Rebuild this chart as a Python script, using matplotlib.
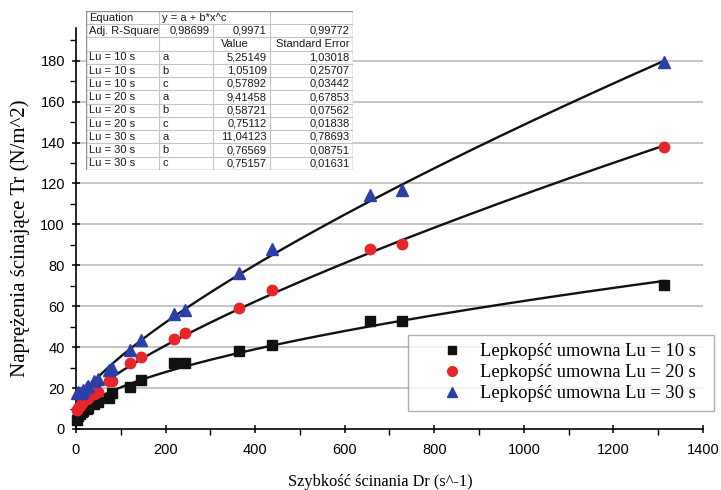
import numpy as np
import matplotlib
matplotlib.use("Agg")
import matplotlib.pyplot as plt
from matplotlib.lines import Line2D
from matplotlib.patches import Rectangle

# ---------------- data ----------------
shear_rate = [3.0, 5.4, 9.0, 13.5, 16.2, 24.3, 27.0, 40.5, 48.6, 72.9, 81.0,
              121.5, 145.8, 218.7, 243.0, 364.5, 437.4, 656.1, 729.0, 1312.0]
tau_lu10 = [4.5, 6.5, 7.5, 8.5, 9.0, 10.0, 10.5, 12.0, 13.3, 15.0, 17.7,
            20.6, 23.9, 32.3, 32.3, 38.0, 41.0, 52.8, 52.8, 70.6]
tau_lu20 = [9.5, 10.5, 11.2, 12.5, 13.7, 14.5, 15.3, 16.9, 17.9, 23.6, 23.6,
            32.5, 35.3, 44.0, 47.0, 59.0, 67.8, 88.1, 90.2, 137.7]
tau_lu30 = [17.5, 18.0, 17.5, 18.2, 19.0, 20.5, 21.0, 23.5, 24.2, 29.0, 29.6,
            38.5, 43.7, 56.4, 58.4, 76.4, 88.1, 114.6, 117.0, 179.2]

series_labels = ["Lepkopść umowna Lu = 10 s",
                 "Lepkopść umowna Lu = 20 s",
                 "Lepkopść umowna Lu = 30 s"]
table_series = ["Lu = 10 s", "Lu = 20 s", "Lu = 30 s"]
param_names = ["a", "b", "c"]
adj_r2 = [0.98699, 0.9971, 0.99772]
fit_values = [[5.25149, 1.05109, 0.57892],
              [9.41458, 0.58721, 0.75112],
              [11.04123, 0.76569, 0.75157]]
fit_errors = [[1.03018, 0.25707, 0.03442],
              [0.67853, 0.07562, 0.01838],
              [0.78693, 0.08751, 0.01631]]

x_ticks = [0, 200, 400, 600, 800, 1000, 1200, 1400]
y_ticks = [0, 20, 40, 60, 80, 100, 120, 140, 160, 180]

xlabel = "Szybkość ścinania Dr (s^-1)"
ylabel = "Naprężenia ścinające Tr (N/m^2)"

# ---------------- figure ----------------
W, H = 721, 490
fig = plt.figure(figsize=(W / 100, H / 100), dpi=100)
ax = fig.add_axes([76 / W, 1 - 429 / H, (703 - 76) / W, (429 - 28) / H])

ax.set_xlim(0, 1400)
ax.set_ylim(0, 196)
ax.set_xticks(x_ticks)
ax.set_yticks(y_ticks)
ax.set_xticks(np.arange(100, 1400, 200), minor=True)
ax.set_yticks(np.arange(10, 196, 20), minor=True)
for s in ["top", "right"]:
    ax.spines[s].set_visible(False)
for s in ["left", "bottom"]:
    ax.spines[s].set_linewidth(1.2)
ax.tick_params(axis="both", which="major", length=6, width=1.1, direction="inout",
               labelsize=10.5)
ax.tick_params(axis="x", which="major", pad=7)
ax.tick_params(axis="y", which="major", pad=5)
ax.tick_params(axis="both", which="minor", length=4, width=1.0, direction="out")
for lab in ax.get_xticklabels() + ax.get_yticklabels():
    lab.set_fontfamily("Liberation Sans")

for yv in y_ticks[1:]:
    ax.axhline(yv, color="#b5b5b5", lw=1.1, zorder=0)

colors = ["#111111", "#e8262a", "#2b3fa6"]
markers = ["s", "o", "^"]
msizes = [6.5, 7.5, 8]
all_tau = [tau_lu10, tau_lu20, tau_lu30]

for i in range(3):
    a, b, c = fit_values[i]
    xf = np.linspace(shear_rate[0], shear_rate[-1], 400)
    ax.plot(xf, a + b * xf ** c, color="#111111", lw=1.7, zorder=2)
    ax.plot(shear_rate, all_tau[i], linestyle="none", marker=markers[i],
            color=colors[i], ms=msizes[i], mec=colors[i], zorder=3, clip_on=False)

fig.text(380 / W, 1 - 486 / H, xlabel, ha="center", va="baseline",
         fontfamily="Liberation Serif", fontsize=11.8)
fig.text(20 / W, 1 - 238 / H, ylabel, ha="center", va="center", rotation=90,
         fontfamily="Liberation Serif", fontsize=15)

# ---------------- legend ----------------
handles = [Line2D([], [], linestyle="none", marker=markers[i], color=colors[i],
                  ms=msizes[i] - 0.5) for i in range(3)]
leg = fig.legend(handles, series_labels, loc="upper left",
                 bbox_to_anchor=(408 / W, 1 - 411 / H, (714 - 408) / W, (411 - 335) / H),
                 mode="expand", frameon=True, fancybox=False, edgecolor="#9a9a9a",
                 prop={"family": "Liberation Serif", "size": 13.3},
                 handlelength=3.9, handletextpad=-0.45, labelspacing=0.22,
                 borderpad=0.45, borderaxespad=0)
leg.get_frame().set_linewidth(1.0)

# ---------------- fit table ----------------
tx0, tx1, ty0, ty1 = 86, 353, 11, 170
tab_ax = fig.add_axes([tx0 / W, 1 - ty1 / H, (tx1 - tx0) / W, (ty1 - ty0) / H])
tab_ax.set_xlim(0, 1)
tab_ax.set_ylim(0, 1)
tab_ax.axis("off")
tab_ax.add_patch(Rectangle((0, 0), 1, 1, facecolor="white", edgecolor="none",
                           transform=tab_ax.transAxes, zorder=0))


def fmt(v):
    return f"{v}".replace(".", ",")


rows = [["Equation", "y = a + b*x^c", "", ""],
        ["Adj. R-Square", fmt(adj_r2[0]), fmt(adj_r2[1]), fmt(adj_r2[2])],
        ["", "", "Value", "Standard Error"]]
for i in range(3):
    for j in range(3):
        rows.append([table_series[i], param_names[j], fmt(fit_values[i][j]),
                     fmt(fit_errors[i][j])])

col_px = [86, 159, 213, 270, 353]
col_x = [(p - tx0) / (tx1 - tx0) for p in col_px]
nrow = len(rows)
rh = 1.0 / nrow
lc = "#c4c4c4"
for r in range(1, nrow):
    tab_ax.plot([0, 1], [1 - r * rh] * 2, color=lc, lw=0.8)
for ci in (1, 2, 3):
    for r in range(nrow):
        if r == 0 and ci == 2:
            continue
        tab_ax.plot([col_x[ci]] * 2, [1 - r * rh, 1 - (r + 1) * rh], color=lc, lw=0.8)
tab_ax.add_patch(Rectangle((0, 0), 1, 1, facecolor="none", edgecolor="#8f8f8f",
                           lw=1.0, transform=tab_ax.transAxes, zorder=5))

pad = 0.012
for r, row in enumerate(rows):
    yc = 1 - (r + 0.5) * rh
    for ci, txt in enumerate(row):
        if not txt:
            continue
        if ci == 0:
            x, ha = col_x[0] + pad, "left"
        elif ci == 1:
            if r == 1:
                x, ha = col_x[2] - pad, "right"
            else:
                x, ha = col_x[1] + pad, "left"
        elif ci == 2:
            if r == 2:
                x, ha = col_x[2] + 0.03, "left"
            else:
                x, ha = col_x[3] - pad, "right"
        else:
            x, ha = col_x[4] - pad, "right"
        tab_ax.text(x, yc, txt, ha=ha, va="center", fontsize=8,
                    fontfamily="Liberation Sans", color="#1a1a1a")

fig.savefig("out.png", dpi=100)
